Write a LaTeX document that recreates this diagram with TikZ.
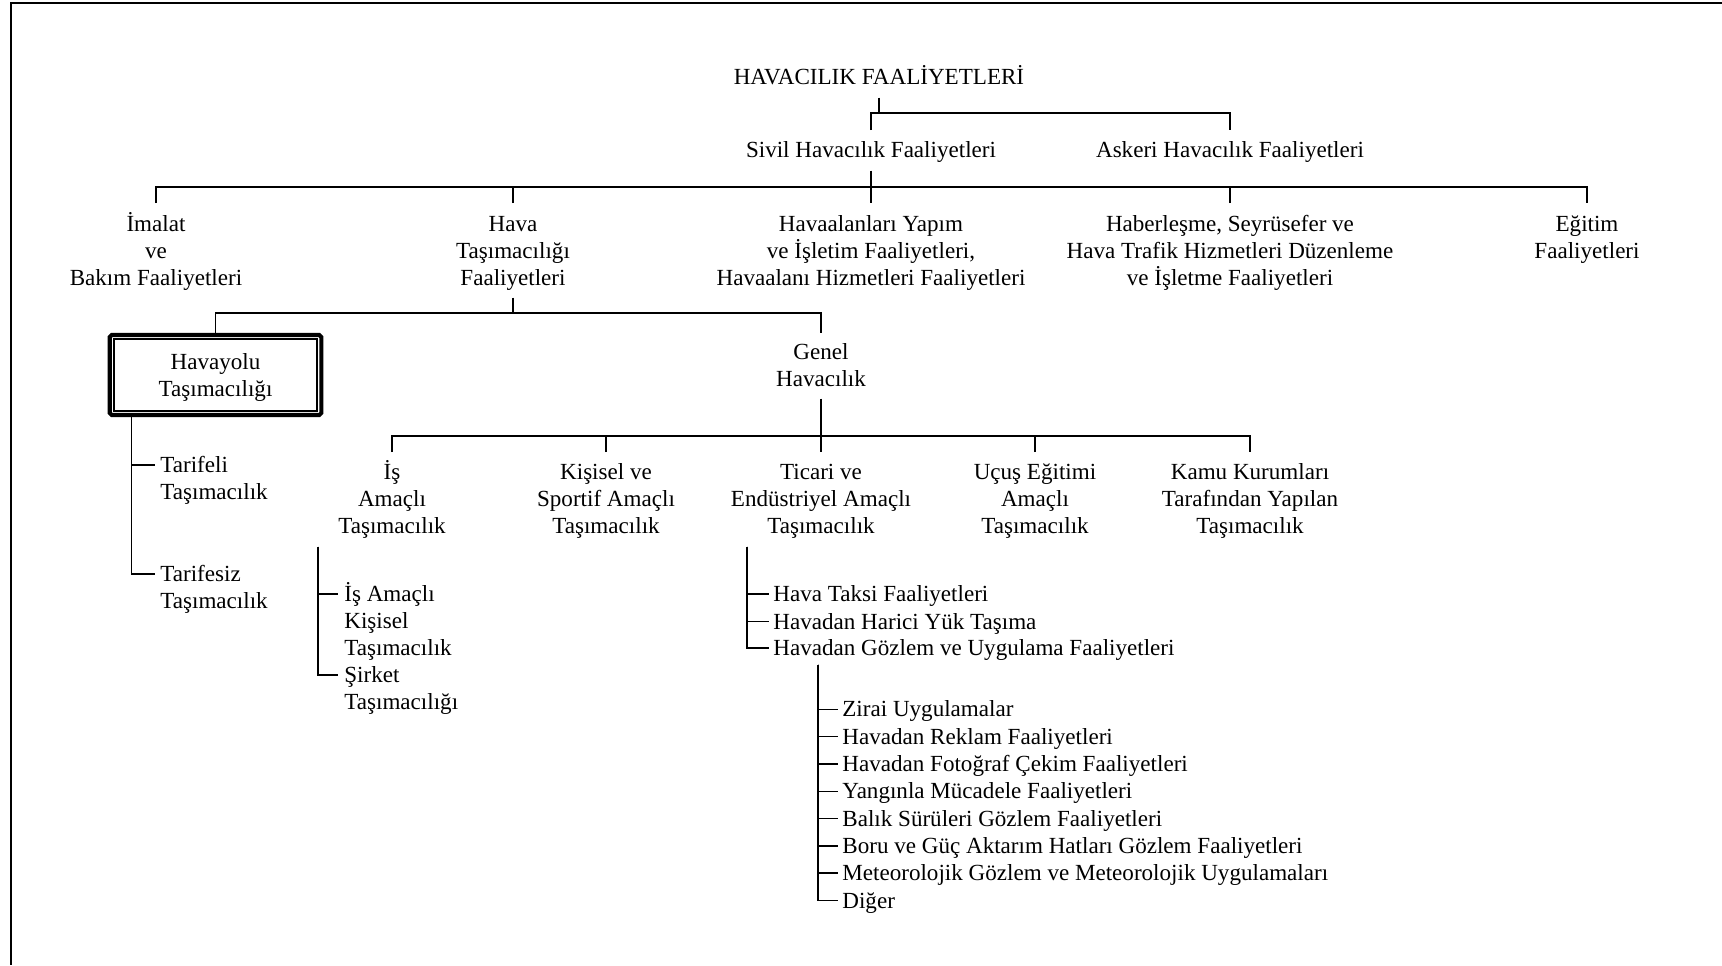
\documentclass[tikz,border=0pt]{standalone}
\usepackage{fontspec}
\setmainfont{Liberation Serif}
\usepackage{tikz}
\usepackage{xcolor}

\newcommand{\hgt}{\rule[-3pt]{0pt}{14pt}}
\tikzset{
  lbl/.style={anchor=north,align=center,inner sep=0pt,
    font=\fontsize{12}{14}\selectfont,
    execute at begin node={\hgt},
    execute at end node={\hgt}},
  item/.style={lbl,anchor=north west,align=left},
  tree/.style={line width=.8pt},
}

\begin{document}
\begin{tikzpicture}[x=0.52pt,y=-0.52pt]
  \useasboundingbox (0,0) rectangle (1722,965);
  \draw[line width=1.2pt] (1722,3) -- (11,3) -- (11,965);

  \node[lbl] (hf) at (879,63) {HAVACILIK FAALİYETLERİ};
  \node[lbl] (shf) at (871,136) {Sivil Havacılık Faaliyetleri};
  \node[lbl] (ahf) at (1230,136) {Askeri Havacılık Faaliyetleri};

  \node[lbl] (imb) at (156,210) {\hgt İmalat\\ve\\Bakım Faaliyetleri};
  \node[lbl] (htf) at (513,210) {\hgt Hava\\Taşımacılığı\\Faaliyetleri};
  \node[lbl] (hyf) at (871,210) {\hgt Havaalanları Yapım\\ve İşletim Faaliyetleri,\\Havaalanı Hizmetleri Faaliyetleri};
  \node[lbl] (hsf) at (1230,210) {\hgt Haberleşme, Seyrüsefer ve\\Hava Trafik Hizmetleri Düzenleme\\ve İşletme Faaliyetleri};
  \node[lbl] (egf) at (1587,210) {\hgt Eğitim\\Faaliyetleri};

  \node[lbl,anchor=center,draw,line width=2.1pt,rounded corners=1pt,
    minimum width=110pt,minimum height=41.6pt] (hyt) at (215.5,375) {\hgt Havayolu\\Taşımacılığı};
  \draw[line width=.7pt] ([shift={(3.2pt,-3.2pt)}]hyt.north west)
    rectangle ([shift={(-3.2pt,3.2pt)}]hyt.south east);
  \node[lbl] (gnl) at (821,338) {\hgt Genel\\Havacılık};

  \node[lbl] (isa) at (392,458) {\hgt İş\\Amaçlı\\Taşımacılık};
  \node[lbl] (kis) at (606,458) {\hgt Kişisel ve\\Sportif Amaçlı\\Taşımacılık};
  \node[lbl] (tic) at (821,458) {\hgt Ticari ve\\Endüstriyel Amaçlı\\Taşımacılık};
  \node[lbl] (ucs) at (1035,458) {\hgt Uçuş Eğitimi\\Amaçlı\\Taşımacılık};
  \node[lbl] (kam) at (1250,458) {\hgt Kamu Kurumları\\Tarafından Yapılan\\Taşımacılık};

  \node[item] (tar) at (160,451) {\hgt Tarifeli\\Taşımacılık};
  \node[item] (tsz) at (160,560) {\hgt Tarifesiz\\Taşımacılık};

  \node[item] (isk) at (344,580) {\hgt İş Amaçlı\\Kişisel\\Taşımacılık};
  \node[item] (sir) at (344,661) {\hgt Şirket\\Taşımacılığı};

  \node[item] (hts) at (773,580) {Hava Taksi Faaliyetleri};
  \node[item] (hhy) at (773,607.5) {Havadan Harici Yük Taşıma};
  \node[item] (hgu) at (773,634) {Havadan Gözlem ve Uygulama Faaliyetleri};

  \node[item] (zu) at (842,695.4) {Zirai Uygulamalar};
  \node[item] (hrf) at (842,722.7) {Havadan Reklam Faaliyetleri};
  \node[item] (hff) at (842,750) {Havadan Fotoğraf Çekim Faaliyetleri};
  \node[item] (ymf) at (842,777.3) {Yangınla Mücadele Faaliyetleri};
  \node[item] (bsg) at (842,804.6) {Balık Sürüleri Gözlem Faaliyetleri};
  \node[item] (bgh) at (842,831.9) {Boru ve Güç Aktarım Hatları Gözlem Faaliyetleri};
  \node[item] (mgu) at (842,859.2) {Meteorolojik Gözlem ve Meteorolojik Uygulamaları};
  \node[item] (dgr) at (842,886.5) {Diğer};

  \path (node cs:name=hf,anchor=south) +(0,7) coordinate (hfo);
  \path (node cs:name=shf,anchor=north) +(0,-6) coordinate (shfi);
  \path (node cs:name=ahf,anchor=north) +(0,-6) coordinate (ahfi);
  \path (shfi) +(0,-17) coordinate (bsa);
  \draw[tree] (hfo) -- (hfo |- bsa);
  \draw[tree] (shfi) -- (bsa) -| (ahfi);

  \path (node cs:name=shf,anchor=south) +(0,7) coordinate (shfo);
  \path (node cs:name=imb,anchor=north) +(0,-7) coordinate (imbi);
  \path (node cs:name=htf,anchor=north) +(0,-7) coordinate (htfi);
  \path (node cs:name=hyf,anchor=north) +(0,-7) coordinate (hyfi);
  \path (node cs:name=hsf,anchor=north) +(0,-7) coordinate (hsfi);
  \path (node cs:name=egf,anchor=north) +(0,-7) coordinate (egfi);
  \path (imbi) +(0,-16) coordinate (bsb);
  \draw[tree] (shfo) -- (hyfi);
  \draw[tree] (imbi) -- (bsb) -| (egfi);
  \draw[tree] (htfi) -- (htfi |- bsb);
  \draw[tree] (hsfi) -- (hsfi |- bsb);

  \path (node cs:name=htf,anchor=south) +(0,6) coordinate (htfo);
  \path (node cs:name=gnl,anchor=north) +(0,-5) coordinate (gnli);
  \path (node cs:name=hyt,anchor=north) +(0,-20) coordinate (bsc);
  \draw[tree] (htfo) -- (htfo |- bsc);
  \draw[tree] (hyt.north) -- (bsc) -| (gnli);

  \path (node cs:name=gnl,anchor=south) +(0,6) coordinate (gnlo);
  \path (node cs:name=isa,anchor=north) +(0,-6) coordinate (isai);
  \path (node cs:name=kis,anchor=north) +(0,-6) coordinate (kisi);
  \path (node cs:name=tic,anchor=north) +(0,-6) coordinate (tici);
  \path (node cs:name=ucs,anchor=north) +(0,-6) coordinate (ucsi);
  \path (node cs:name=kam,anchor=north) +(0,-6) coordinate (kami);
  \path (isai) +(0,-16) coordinate (bsd);
  \draw[tree] (gnlo) -- (tici);
  \draw[tree] (isai) -- (bsd) -| (kami);
  \draw[tree] (kisi) -- (kisi |- bsd);
  \draw[tree] (ucsi) -- (ucsi |- bsd);

  \path (node cs:name=hyt,anchor=south west) +(24,0) coordinate (hyto);
  \path (node cs:name=tar,anchor=north west) +(-5,14) coordinate (tari);
  \path (node cs:name=tsz,anchor=north west) +(-5,14) coordinate (tszi);
  \draw[tree] (hyto) |- (tari);
  \draw[tree] (hyto) |- (tszi);

  \path (node cs:name=isa,anchor=south) +(-74,7) coordinate (isao);
  \path (node cs:name=isk,anchor=north west) +(-6,14) coordinate (iski);
  \path (node cs:name=sir,anchor=north west) +(-6,14) coordinate (siri);
  \draw[tree] (isao) |- (iski);
  \draw[tree] (isao) |- (siri);

  \path (node cs:name=tic,anchor=south) +(-74,7) coordinate (tico);
  \path (node cs:name=hts,anchor=north west) +(-4,14) coordinate (htsi);
  \path (node cs:name=hhy,anchor=north west) +(-4,14) coordinate (hhyi);
  \path (node cs:name=hgu,anchor=north west) +(-4,14) coordinate (hgui);
  \draw[tree] (tico) |- (htsi);
  \draw[tree] (tico) |- (hhyi);
  \draw[tree] (tico) |- (hgui);

  \path (node cs:name=hgu,anchor=south west) +(45,3) coordinate (hguo);
  \path (node cs:name=zu,anchor=north west) +(-4,14) coordinate (zui);
  \path (node cs:name=hrf,anchor=north west) +(-4,14) coordinate (hrfi);
  \path (node cs:name=hff,anchor=north west) +(-4,14) coordinate (hffi);
  \path (node cs:name=ymf,anchor=north west) +(-4,14) coordinate (ymfi);
  \path (node cs:name=bsg,anchor=north west) +(-4,14) coordinate (bsgi);
  \path (node cs:name=bgh,anchor=north west) +(-4,14) coordinate (bghi);
  \path (node cs:name=mgu,anchor=north west) +(-4,14) coordinate (mgui);
  \path (node cs:name=dgr,anchor=north west) +(-4,14) coordinate (dgri);
  \draw[tree] (hguo) |- (zui);
  \draw[tree] (hguo) |- (hrfi);
  \draw[tree] (hguo) |- (hffi);
  \draw[tree] (hguo) |- (ymfi);
  \draw[tree] (hguo) |- (bsgi);
  \draw[tree] (hguo) |- (bghi);
  \draw[tree] (hguo) |- (mgui);
  \draw[tree] (hguo) |- (dgri);
\end{tikzpicture}
\end{document}
